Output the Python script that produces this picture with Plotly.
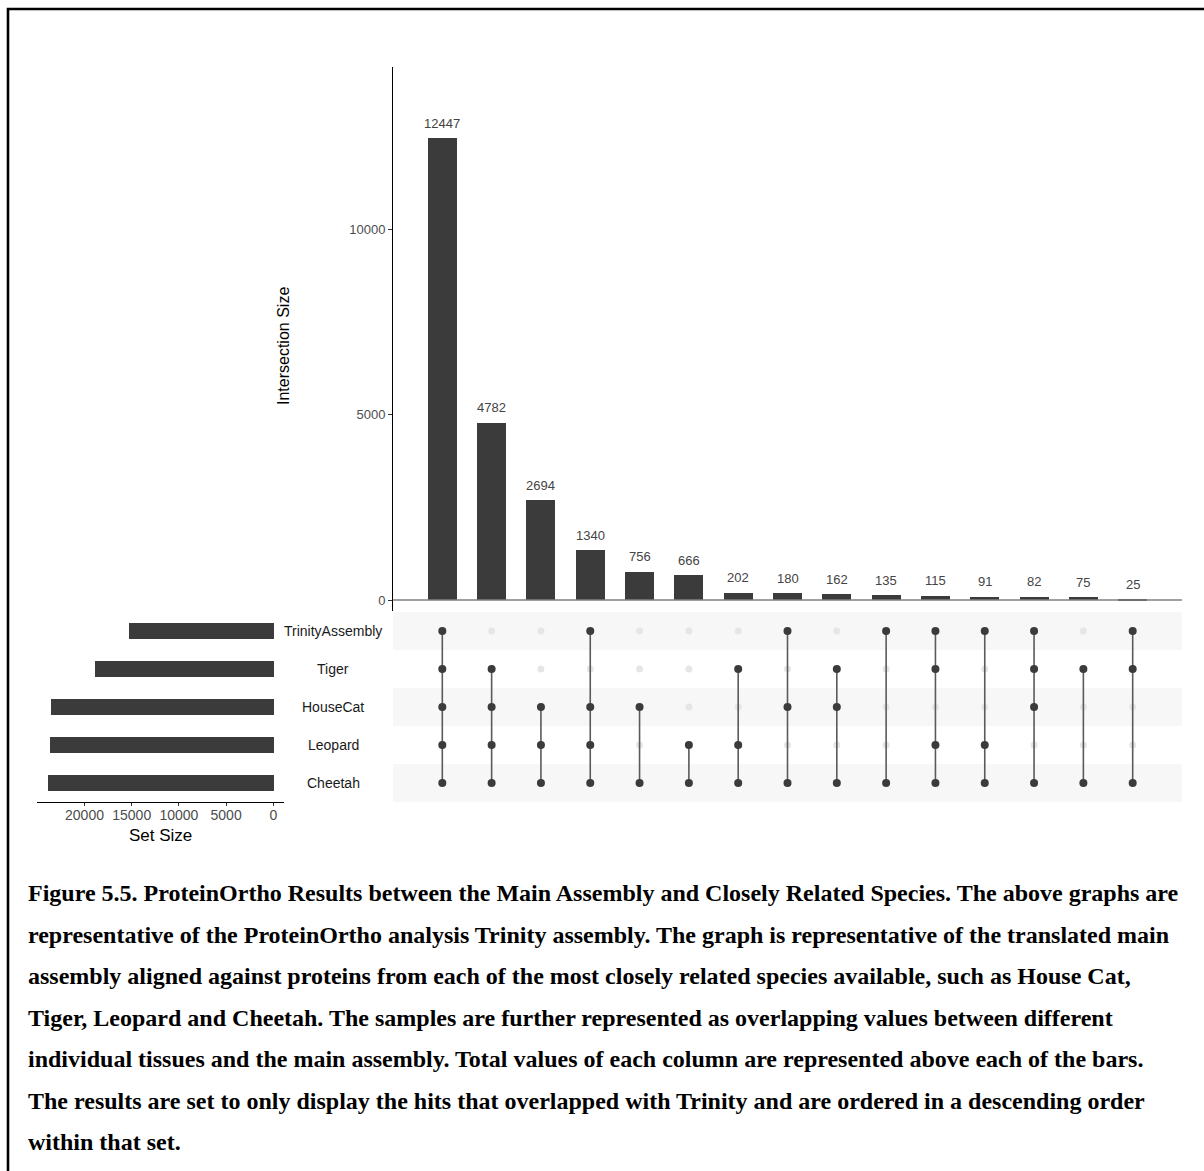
import plotly.graph_objects as go

# ---- data -------------------------------------------------------------
sets = ["TrinityAssembly", "Tiger", "HouseCat", "Leopard", "Cheetah"]
set_sizes = [15360, 18960, 23550, 23650, 23870]

intersection_sizes = [12447, 4782, 2694, 1340, 756, 666, 202, 180,
                      162, 135, 115, 91, 82, 75, 25]

# membership of each intersection column, in the order of `sets`
memberships = [
    [1, 1, 1, 1, 1],
    [0, 1, 1, 1, 1],
    [0, 0, 1, 1, 1],
    [1, 0, 1, 1, 1],
    [0, 0, 1, 0, 1],
    [0, 0, 0, 1, 1],
    [0, 1, 0, 1, 1],
    [1, 0, 1, 0, 1],
    [0, 1, 1, 0, 1],
    [1, 0, 0, 0, 1],
    [1, 1, 0, 1, 1],
    [1, 0, 0, 1, 1],
    [1, 1, 1, 0, 1],
    [0, 1, 0, 0, 1],
    [1, 1, 0, 0, 1],
]

set_size_ticks = [20000, 15000, 10000, 5000, 0]
intersection_ticks = [0, 5000, 10000]

caption_lines = [
    "Figure 5.5. ProteinOrtho Results between the Main Assembly and Closely Related Species. The above graphs are",
    "representative of the ProteinOrtho analysis Trinity assembly. The graph is representative of the translated main",
    "assembly aligned against proteins from each of the most closely related species available, such as House Cat,",
    "Tiger, Leopard and Cheetah. The samples are further represented as overlapping values between different",
    "individual tissues and the main assembly. Total values of each column are represented above each of the bars.",
    "The results are set to only display the hits that overlapped with Trinity and are ordered in a descending order",
    "within that set.",
]

# ---- layout helpers (pixel -> paper) ----------------------------------
W, H = 1204, 1171


def px(x):
    return x / W


def py(y):
    return 1 - y / H


SANS = "Liberation Sans, Arial, sans-serif"
SERIF = "Liberation Serif, Times New Roman, serif"
BAR = "#3b3b3b"
TICK_GREY = "#4d4d4d"

cols = list(range(1, len(intersection_sizes) + 1))
rows = list(range(1, len(sets) + 1))

fig = go.Figure()

# intersection size bars
fig.add_trace(go.Bar(
    x=cols, y=intersection_sizes, width=0.59,
    marker=dict(color=BAR, line=dict(width=0)),
    xaxis="x", yaxis="y", showlegend=False, hoverinfo="y",
))

# matrix: background dots for every cell
bg_x, bg_y, on_x, on_y = [], [], [], []
seg_x, seg_y = [], []
for c, mem in zip(cols, memberships):
    present = [r for r, m in zip(rows, mem) if m]
    for r, m in zip(rows, mem):
        if m:
            on_x.append(c)
            on_y.append(r)
        else:
            bg_x.append(c)
            bg_y.append(r)
    if len(present) > 1:
        seg_x += [c, c, None]
        seg_y += [min(present), max(present), None]

fig.add_trace(go.Scatter(
    x=bg_x, y=bg_y, mode="markers",
    marker=dict(color="#e6e6e6", size=7),
    xaxis="x2", yaxis="y2", showlegend=False, hoverinfo="skip",
))
fig.add_trace(go.Scatter(
    x=seg_x, y=seg_y, mode="lines",
    line=dict(color="#5a5a5a", width=1.6),
    xaxis="x2", yaxis="y2", showlegend=False, hoverinfo="skip",
))
fig.add_trace(go.Scatter(
    x=on_x, y=on_y, mode="markers",
    marker=dict(color=BAR, size=8),
    xaxis="x2", yaxis="y2", showlegend=False, hoverinfo="skip",
))

# set size bars
fig.add_trace(go.Bar(
    x=set_sizes, y=rows, orientation="h", width=0.44,
    marker=dict(color=BAR, line=dict(width=0)),
    xaxis="x3", yaxis="y3", showlegend=False, hoverinfo="x",
))

shapes = []
# striped matrix rows
for r in rows:
    if r % 2 == 1:
        shapes.append(dict(
            type="rect", xref="x2", yref="y2", x0=0, x1=16,
            y0=r - 0.5, y1=r + 0.5, fillcolor="#f7f7f7",
            line=dict(width=0), layer="below",
        ))
# grey baseline under intersection bars
shapes.append(dict(
    type="line", xref="x", yref="y", x0=0, x1=16, y0=0, y1=0,
    line=dict(color="#808080", width=1.6), layer="above",
))
# outer frame
shapes.append(dict(
    type="rect", xref="paper", yref="paper",
    x0=px(8), x1=1.02, y0=-0.02, y1=py(9),
    line=dict(color="black", width=2.6), fillcolor="rgba(0,0,0,0)",
))

annotations = []
# value labels above bars
for c, v in zip(cols, intersection_sizes):
    annotations.append(dict(
        x=c, y=v, xref="x", yref="y", text=str(v), showarrow=False,
        yanchor="middle", yshift=15,
        font=dict(family=SANS, size=13, color="#444444"),
    ))
# set names
for r, name in zip(rows, sets):
    annotations.append(dict(
        x=px(333), y=r, xref="paper", yref="y3", text=name,
        showarrow=False, xanchor="center", yanchor="middle",
        font=dict(family=SANS, size=14, color="#1a1a1a"),
    ))
# axis titles
annotations.append(dict(
    x=px(283), y=py(346), xref="paper", yref="paper",
    text="Intersection Size", textangle=-90, showarrow=False,
    xanchor="center", yanchor="middle",
    font=dict(family=SANS, size=16, color="black"),
))
annotations.append(dict(
    x=px(161), y=py(835), xref="paper", yref="paper",
    text="Set Size", showarrow=False, xanchor="center", yanchor="middle",
    font=dict(family=SANS, size=17, color="black"),
))
# caption
line_y = [893, 935, 976, 1018, 1059, 1101, 1142]
for yy, txt in zip(line_y, caption_lines):
    annotations.append(dict(
        x=px(27), y=py(yy), xref="paper", yref="paper", text="<b>%s</b>" % txt,
        showarrow=False, xanchor="left", yanchor="middle", borderpad=0,
        font=dict(family=SERIF, size=24, color="black"),
    ))

fig.update_layout(
    width=W, height=H,
    margin=dict(l=0, r=0, t=0, b=0),
    paper_bgcolor="white", plot_bgcolor="rgba(0,0,0,0)",
    bargap=0,
    shapes=shapes, annotations=annotations,
    xaxis=dict(
        domain=[px(393), px(1182)], range=[0, 16],
        showticklabels=False, showgrid=False, zeroline=False,
        showline=False, ticks="", anchor="y",
    ),
    yaxis=dict(
        domain=[py(611), py(67)], range=[-296, 14367],
        tickvals=intersection_ticks,
        ticktext=[str(t) for t in intersection_ticks],
        ticks="outside", ticklen=4,
        tickcolor="#333333", tickwidth=1,
        tickfont=dict(family=SANS, size=13, color=TICK_GREY),
        showgrid=False, zeroline=False,
        showline=True, linecolor="black", linewidth=1, anchor="x",
    ),
    xaxis2=dict(
        domain=[px(393), px(1182)], range=[0, 16],
        showticklabels=False, showgrid=False, zeroline=False,
        showline=False, ticks="", anchor="y2",
    ),
    yaxis2=dict(
        domain=[py(802), py(612)], range=[5.5, 0.5],
        showticklabels=False, showgrid=False, zeroline=False,
        showline=False, ticks="", anchor="x2",
    ),
    xaxis3=dict(
        domain=[px(36.7), px(284)], range=[25064, -1133],
        tickvals=set_size_ticks,
        ticktext=[str(t) for t in set_size_ticks],
        ticks="outside", ticklen=3, ticklabelstandoff=-3,
        tickcolor="#333333", tickwidth=1,
        tickfont=dict(family=SANS, size=14, color=TICK_GREY),
        showgrid=False, zeroline=False,
        showline=True, linecolor="black", linewidth=1, anchor="y3",
    ),
    yaxis3=dict(
        domain=[py(802), py(612)], range=[5.5, 0.5],
        showticklabels=False, showgrid=False, zeroline=False,
        showline=False, ticks="", anchor="x3",
    ),
)

fig.write_html("out.html")
